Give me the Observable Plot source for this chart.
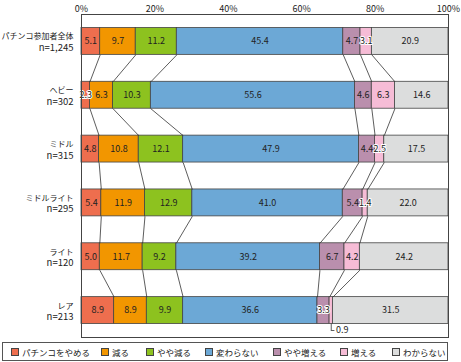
<!DOCTYPE html>
<html><head><meta charset="utf-8">
<script src="https://cdn.jsdelivr.net/npm/d3@7"></script>
<script src="https://cdn.jsdelivr.net/npm/@observablehq/plot@0.6"></script>
<style>
body{margin:0;background:#fff;font-family:"Noto Sans CJK JP","Noto Sans",sans-serif;}
#legend{position:relative;margin-left:2px;margin-top:2px;width:446px;height:19px;border:1px solid #555;box-sizing:border-box;font-size:8.5px;color:#222;}
#legend .it{position:absolute;top:3px;display:flex;align-items:center;white-space:nowrap;}
#legend .sw{width:8px;height:8px;border:1px solid #444;box-sizing:border-box;margin-right:3px;}
</style></head>
<body>
<div id="chart"></div>
<div id="legend"></div>
<script>
const groups = ["パチンコ参加者全体","ヘビー","ミドル","ミドルライト","ライト","レア"];
const ns = ["n=1,245","n=302","n=315","n=295","n=120","n=213"];
const answers = ["パチンコをやめる","減る","やや減る","変わらない","やや増える","増える","わからない"];
const colors = ["#EE6E4E","#F29600","#8DC21F","#6CA8D6","#BA8FAD","#F6BCD6","#DCDDDD"];
const quit     = [5.1, 2.3, 4.8, 5.4, 5.0, 8.9];
const less     = [9.7, 6.3, 10.8, 11.9, 11.7, 8.9];
const someLess = [11.2, 10.3, 12.1, 12.9, 9.2, 9.9];
const same     = [45.4, 55.6, 47.9, 41.0, 39.2, 36.6];
const someMore = [4.7, 4.6, 4.4, 5.4, 6.7, 3.3];
const more     = [3.1, 6.3, 2.5, 1.4, 4.2, 0.9];
const unknown  = [20.9, 14.6, 17.5, 22.0, 24.2, 31.5];
const tickValues = [0, 20, 40, 60, 80, 100];
const legendLeft = [8, 98, 143, 202, 270, 337, 389];

const series = [quit, less, someLess, same, someMore, more, unknown];
const segs = [];
const bounds = [];
groups.forEach((g, i) => {
  const total = d3.sum(series, s => s[i]);
  let c = 0;
  const b = [];
  series.forEach((s, k) => {
    const v = s[i];
    const x1 = c / total * 100;
    c += v;
    const x2 = c / total * 100;
    segs.push({i, k, v, x1, x2, answer: answers[k]});
    if (k < series.length - 1) b.push(x2);
  });
  bounds.push(b);
});
const links = [];
for (let i = 0; i < groups.length - 1; i++) {
  for (let k = 0; k < bounds[i].length; k++) {
    links.push({x1: bounds[i][k], y1: i + 0.75, x2: bounds[i + 1][k], y2: i + 1.25});
  }
}
const inside = segs.filter(d => d.v >= 1);
const outside = segs.filter(d => d.v < 1);
const labelRows = groups.map((g, i) => ({i, g, n: ns[i]}));

const chart = Plot.plot({
  width: 461, height: 340,
  marginTop: 14, marginBottom: 3, marginLeft: 81, marginRight: 13,
  style: {fontFamily: '"Noto Sans CJK JP","Noto Sans",sans-serif', fontSize: "9px", color: "#222"},
  x: {domain: [0, 100]},
  y: {domain: [0, 6], reverse: true, axis: null},
  color: {domain: answers, range: colors},
  marks: [
    Plot.axisX({anchor: "top", ticks: tickValues, tickFormat: d => d + "%", tickSize: 0, tickPadding: 3, label: null, fontSize: 9}),
    Plot.rect(segs, {x1: "x1", x2: "x2", y1: d => d.i + 0.25, y2: d => d.i + 0.75, fill: "answer", stroke: "#444", strokeWidth: 0.8}),
    Plot.link(links, {x1: "x1", y1: "y1", x2: "x2", y2: "y2", stroke: "#333", strokeWidth: 0.8}),
    Plot.text(inside.filter(d => d.v >= 3.5), {x: d => (d.x1 + d.x2) / 2, y: d => d.i + 0.5, text: d => d.v.toFixed(1), fill: "#222", fontSize: 9}),
    Plot.text(inside.filter(d => d.v < 3.5), {x: d => (d.x1 + d.x2) / 2, y: d => d.i + 0.5, text: d => d.v.toFixed(1), fill: "#222", stroke: "white", strokeWidth: 2, fontSize: 9}),
    Plot.ruleX(outside, {x: d => (d.x1 + d.x2) / 2, y1: d => d.i + 0.75, y2: d => d.i + 0.87, stroke: "#333", strokeWidth: 0.8}),
    Plot.ruleY(outside, {y: d => d.i + 0.87, x1: d => (d.x1 + d.x2) / 2, x2: d => (d.x1 + d.x2) / 2 + 1, stroke: "#333", strokeWidth: 0.8}),
    Plot.text(outside, {x: d => (d.x1 + d.x2) / 2 + 1, y: d => d.i + 0.87, text: d => d.v.toFixed(1), textAnchor: "start", dx: 1, fill: "#222", fontSize: 9}),
    Plot.text(labelRows, {x: () => 0, y: d => d.i + 0.5, text: "g", textAnchor: "end", dx: -8, dy: -4.5, fill: "#222", fontSize: 8}),
    Plot.text(labelRows, {x: () => 0, y: d => d.i + 0.5, text: "n", textAnchor: "end", dx: -8, dy: 6.5, fill: "#222", fontSize: 9.5}),
    Plot.frame({stroke: "#444", strokeWidth: 1})
  ]
});
document.getElementById("chart").appendChild(chart);

const lg = document.getElementById("legend");
answers.forEach((a, k) => {
  const it = document.createElement("div");
  it.className = "it";
  it.style.left = legendLeft[k] + "px";
  const sw = document.createElement("span");
  sw.className = "sw";
  sw.style.background = colors[k];
  const t = document.createElement("span");
  t.textContent = a;
  it.appendChild(sw); it.appendChild(t);
  lg.appendChild(it);
});
</script>
</body></html>
